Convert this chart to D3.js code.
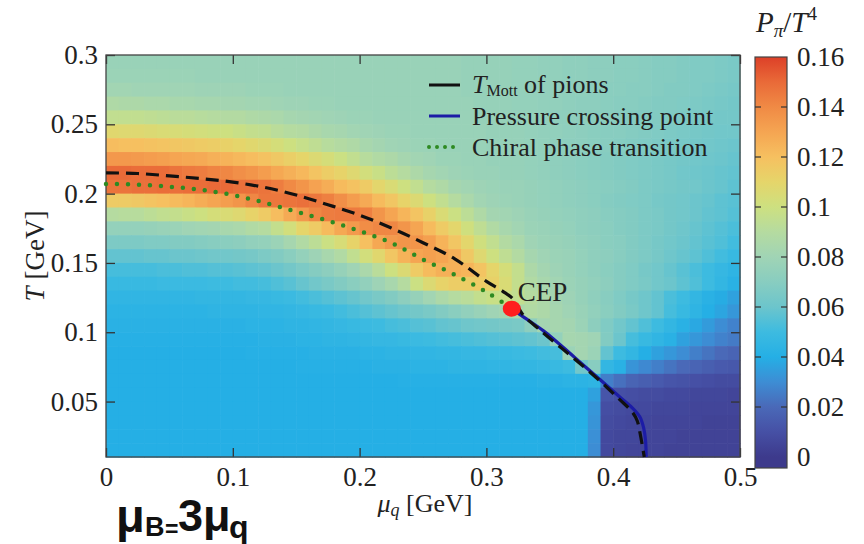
<!DOCTYPE html>
<html>
<head>
<meta charset="utf-8">
<script src="https://cdn.jsdelivr.net/npm/d3@7"></script>
<style>
  body { margin: 0; background: #fff; }
  svg { display: block; font-family: "Liberation Serif", "Times New Roman", serif; }
</style>
</head>
<body>
<svg id="chart" width="864" height="544"></svg>
<script>
// ---- Grid of the pion pressure P_pi / T^4 over (mu_q, T) ----
// Lower edges of the mu_q bins [GeV]
const muLower = [0.00,0.01,0.02,0.03,0.04,0.05,0.06,0.07,0.08,0.09,
                 0.10,0.11,0.12,0.13,0.14,0.15,0.16,0.17,0.18,0.19,
                 0.20,0.21,0.22,0.23,0.24,0.25,0.26,0.27,0.28,0.29,
                 0.30,0.31,0.32,0.33,0.34,0.35,0.36,0.37,0.38,0.39,
                 0.40,0.41,0.42,0.43,0.44,0.45,0.46,0.47,0.48,0.49];
// Lower edges of the T bins [GeV], from the top row down
const tLower = [0.29,0.28,0.27,0.26,0.25,0.24,0.23,0.22,0.21,0.20,
                0.19,0.18,0.17,0.16,0.15,0.14,0.13,0.12,0.11,0.10,
                0.09,0.08,0.07,0.06,0.05,0.04,0.03,0.02,0.01];
const binWidth = 0.01;

// One array per T row, 50 values each (one per mu_q bin)
const pT29 = [.077,.077,.077,.077,.077,.077,.077,.077,.077,.077,
              .077,.077,.077,.077,.077,.077,.077,.077,.077,.077,
              .077,.077,.077,.077,.077,.077,.077,.077,.076,.076,
              .076,.076,.075,.075,.074,.074,.073,.073,.072,.072,
              .071,.071,.070,.069,.069,.068,.067,.067,.066,.065];
const pT28 = [.078,.078,.078,.078,.078,.078,.078,.077,.077,.077,
              .077,.077,.077,.077,.077,.077,.077,.077,.077,.077,
              .077,.077,.077,.077,.077,.077,.077,.077,.076,.076,
              .076,.076,.075,.075,.074,.074,.073,.073,.072,.072,
              .071,.071,.070,.069,.069,.068,.067,.067,.066,.065];
const pT27 = [.081,.081,.080,.080,.080,.080,.080,.079,.079,.079,
              .079,.078,.078,.078,.077,.077,.077,.077,.077,.077,
              .077,.077,.077,.077,.077,.077,.077,.077,.076,.076,
              .076,.076,.075,.075,.074,.074,.073,.073,.072,.071,
              .071,.070,.070,.069,.068,.068,.067,.066,.065,.064];
const pT26 = [.087,.086,.086,.085,.085,.084,.084,.083,.083,.082,
              .082,.081,.081,.080,.079,.079,.078,.078,.077,.077,
              .077,.077,.077,.077,.077,.077,.077,.077,.077,.076,
              .076,.076,.075,.075,.074,.074,.073,.072,.072,.071,
              .070,.070,.069,.068,.068,.067,.066,.065,.064,.063];
const pT25 = [.095,.095,.095,.094,.093,.092,.092,.091,.090,.089,
              .089,.087,.086,.085,.083,.082,.081,.080,.079,.078,
              .078,.077,.077,.077,.077,.077,.077,.077,.077,.076,
              .076,.076,.075,.075,.074,.073,.073,.072,.071,.071,
              .070,.069,.068,.068,.067,.066,.065,.064,.063,.063];
const pT24 = [.108,.107,.107,.106,.105,.104,.103,.102,.101,.100,
              .098,.096,.095,.092,.090,.089,.086,.084,.083,.081,
              .080,.079,.078,.078,.077,.077,.077,.077,.077,.077,
              .076,.076,.076,.075,.074,.074,.073,.072,.071,.070,
              .070,.069,.068,.067,.066,.065,.064,.063,.062,.062];
const pT23 = [.121,.120,.120,.119,.118,.117,.116,.115,.114,.112,
              .110,.108,.106,.103,.100,.097,.094,.091,.089,.087,
              .084,.082,.080,.079,.078,.078,.077,.077,.077,.077,
              .076,.076,.076,.075,.074,.073,.072,.072,.071,.070,
              .069,.068,.067,.066,.065,.064,.063,.062,.061,.060];
const pT22 = [.135,.135,.134,.133,.132,.130,.129,.128,.126,.125,
              .123,.121,.119,.116,.113,.110,.106,.103,.099,.095,
              .091,.088,.086,.083,.081,.080,.078,.078,.077,.077,
              .076,.076,.076,.075,.074,.073,.072,.071,.070,.069,
              .068,.067,.066,.065,.064,.063,.062,.061,.060,.059];
const pT21 = [.150,.150,.149,.149,.149,.147,.145,.144,.142,.141,
              .138,.136,.133,.129,.126,.123,.118,.114,.111,.107,
              .102,.098,.093,.090,.086,.083,.081,.079,.078,.077,
              .077,.076,.076,.075,.074,.073,.072,.071,.070,.069,
              .068,.067,.066,.065,.064,.062,.061,.060,.059,.058];
const pT20 = [.147,.147,.148,.148,.149,.148,.149,.149,.150,.150,
              .148,.148,.147,.144,.140,.136,.131,.127,.122,.119,
              .115,.109,.105,.100,.095,.090,.087,.083,.081,.079,
              .078,.077,.077,.076,.075,.074,.073,.072,.071,.070,
              .069,.068,.066,.065,.064,.063,.062,.060,.059,.057];
const pT19 = [.115,.115,.116,.118,.120,.122,.124,.127,.130,.133,
              .136,.141,.146,.146,.147,.148,.146,.143,.138,.133,
              .128,.122,.117,.111,.106,.100,.095,.090,.085,.081,
              .079,.078,.077,.076,.075,.074,.073,.072,.071,.069,
              .068,.067,.066,.064,.063,.062,.060,.059,.057,.056];
const pT18 = [.090,.091,.091,.093,.095,.096,.098,.100,.103,.105,
              .107,.111,.115,.121,.128,.135,.141,.144,.145,.145,
              .143,.136,.130,.124,.118,.112,.105,.099,.093,.087,
              .082,.081,.079,.077,.076,.075,.074,.073,.072,.070,
              .069,.068,.066,.065,.063,.062,.060,.058,.057,.055];
const pT17 = [.075,.075,.075,.076,.077,.078,.080,.081,.082,.084,
              .085,.088,.090,.096,.102,.110,.115,.122,.129,.134,
              .139,.141,.141,.136,.130,.122,.115,.109,.101,.094,
              .088,.084,.081,.078,.077,.076,.075,.073,.072,.071,
              .069,.068,.066,.065,.063,.061,.059,.057,.055,.053];
const pT16 = [.066,.066,.066,.067,.067,.068,.068,.069,.070,.071,
              .072,.074,.075,.078,.083,.088,.093,.099,.104,.111,
              .120,.129,.134,.136,.136,.132,.125,.117,.109,.101,
              .095,.089,.085,.080,.078,.077,.076,.074,.073,.071,
              .070,.068,.066,.064,.062,.060,.058,.056,.054,.051];
const pT15 = [.058,.058,.058,.059,.059,.060,.060,.061,.062,.062,
              .063,.064,.066,.068,.071,.075,.079,.084,.088,.095,
              .102,.108,.117,.125,.130,.132,.130,.126,.116,.107,
              .100,.094,.089,.083,.080,.078,.077,.075,.073,.072,
              .070,.068,.066,.064,.061,.059,.057,.054,.051,.048];
const pT14 = [.052,.052,.052,.052,.053,.053,.054,.054,.055,.055,
              .056,.057,.058,.060,.063,.066,.069,.072,.076,.080,
              .085,.092,.100,.106,.115,.122,.126,.126,.124,.118,
              .110,.103,.096,.086,.082,.079,.077,.075,.073,.071,
              .069,.067,.064,.062,.059,.056,.053,.050,.047,.044];
const pT13 = [.048,.048,.048,.048,.049,.049,.049,.049,.050,.050,
              .051,.051,.052,.054,.056,.059,.062,.065,.068,.071,
              .074,.079,.084,.090,.099,.106,.111,.114,.114,.115,
              .112,.105,.096,.088,.084,.081,.078,.076,.074,.072,
              .069,.067,.065,.062,.060,.057,.054,.050,.046,.042];
const pT12 = [.045,.045,.045,.045,.045,.045,.045,.046,.046,.046,
              .046,.047,.047,.048,.049,.051,.053,.055,.057,.059,
              .062,.065,.068,.072,.076,.081,.086,.090,.092,.096,
              .098,.098,.095,.090,.086,.082,.079,.076,.073,.070,
              .067,.064,.061,.058,.053,.050,.046,.042,.039,.036];
const pT11 = [.043,.043,.043,.043,.043,.043,.043,.043,.044,.044,
              .044,.044,.045,.045,.046,.047,.048,.049,.051,.053,
              .055,.057,.059,.061,.063,.065,.068,.071,.074,.077,
              .080,.082,.085,.088,.086,.083,.080,.077,.074,.071,
              .068,.065,.061,.058,.052,.048,.044,.040,.037,.033];
const pT10 = [.042,.042,.042,.042,.042,.042,.042,.042,.042,.042,
              .042,.043,.043,.043,.044,.044,.045,.046,.047,.048,
              .049,.050,.052,.053,.055,.056,.058,.059,.061,.062,
              .063,.064,.065,.072,.082,.083,.082,.078,.072,.067,
              .062,.058,.054,.050,.046,.042,.038,.034,.030,.027];
const pT09 = [.041,.041,.041,.041,.041,.041,.041,.041,.041,.041,
              .041,.041,.042,.042,.042,.043,.043,.044,.044,.045,
              .046,.047,.047,.048,.049,.050,.051,.052,.053,.054,
              .055,.056,.057,.058,.060,.075,.083,.082,.080,.068,
              .060,.052,.048,.045,.042,.036,.033,.030,.027,.025];
const pT08 = [.040,.040,.040,.040,.040,.040,.040,.040,.040,.040,
              .040,.041,.041,.041,.041,.041,.042,.042,.042,.042,
              .043,.043,.044,.044,.045,.045,.046,.046,.047,.047,
              .048,.048,.049,.050,.051,.052,.078,.082,.078,.058,
              .050,.046,.040,.036,.033,.030,.026,.023,.020,.018];
const pT07 = [.040,.040,.040,.040,.040,.040,.040,.040,.040,.040,
              .040,.040,.040,.040,.040,.041,.041,.041,.041,.041,
              .041,.042,.042,.042,.043,.043,.043,.044,.044,.044,
              .045,.045,.046,.046,.047,.048,.050,.062,.070,.046,
              .042,.032,.029,.026,.023,.020,.018,.016,.014,.013];
const pT06 = [.040,.040,.040,.040,.040,.040,.040,.040,.040,.040,
              .040,.040,.040,.040,.040,.040,.040,.040,.040,.040,
              .040,.040,.040,.041,.041,.041,.041,.041,.041,.041,
              .041,.041,.041,.041,.042,.042,.043,.043,.044,.026,
              .022,.018,.016,.014,.012,.011,.010,.009,.008,.008];
const pT05 = [.040,.040,.040,.040,.040,.040,.040,.040,.040,.040,
              .040,.040,.040,.040,.040,.040,.040,.040,.040,.040,
              .040,.040,.040,.040,.040,.040,.040,.040,.040,.040,
              .040,.040,.040,.040,.040,.040,.040,.040,.036,.012,
              .010,.009,.008,.008,.007,.007,.006,.006,.006,.005];
const pT04 = [.040,.040,.040,.040,.040,.040,.040,.040,.040,.040,
              .040,.040,.040,.040,.040,.040,.040,.040,.040,.040,
              .040,.040,.040,.040,.040,.040,.040,.040,.040,.040,
              .040,.040,.040,.040,.040,.040,.040,.040,.033,.009,
              .008,.007,.007,.006,.006,.006,.005,.005,.005,.005];
const pT03 = [.040,.040,.040,.040,.040,.040,.040,.040,.040,.040,
              .040,.040,.040,.040,.040,.040,.040,.040,.040,.040,
              .040,.040,.040,.040,.040,.040,.040,.040,.040,.040,
              .040,.040,.040,.040,.040,.040,.040,.040,.032,.008,
              .007,.006,.006,.005,.005,.005,.005,.004,.004,.004];
const pT02 = [.040,.040,.040,.040,.040,.040,.040,.040,.040,.040,
              .040,.040,.040,.040,.040,.040,.040,.040,.040,.040,
              .040,.040,.040,.040,.040,.040,.040,.040,.040,.040,
              .040,.040,.040,.040,.040,.040,.040,.040,.031,.007,
              .006,.006,.005,.005,.005,.004,.004,.004,.004,.004];
const pT01 = [.040,.040,.040,.040,.040,.040,.040,.040,.040,.040,
              .040,.040,.040,.040,.040,.040,.040,.040,.040,.040,
              .040,.040,.040,.040,.040,.040,.040,.040,.040,.040,
              .040,.040,.040,.040,.040,.040,.040,.040,.030,.007,
              .006,.005,.005,.005,.004,.004,.004,.004,.004,.004];
const pressureRows = [pT29,pT28,pT27,pT26,pT25,pT24,pT23,pT22,pT21,pT20,
                      pT19,pT18,pT17,pT16,pT15,pT14,pT13,pT12,pT11,pT10,
                      pT09,pT08,pT07,pT06,pT05,pT04,pT03,pT02,pT01];

// ---- Curves in the (mu_q, T) plane [GeV] ----
const mottLine = [[0.000,0.2150],[0.025,0.2145],[0.050,0.2128],[0.075,0.2108],
                  [0.100,0.2083],[0.125,0.2045],[0.150,0.1990],[0.175,0.1920],
                  [0.200,0.1845],[0.225,0.1752],[0.250,0.1646],[0.275,0.1530],
                  [0.300,0.1367],[0.313,0.1295],[0.3215,0.1235],[0.3285,0.1130],
                  [0.345,0.0995],[0.360,0.0880],[0.375,0.0765],[0.390,0.0645],
                  [0.405,0.0515],[0.415,0.0425],[0.419,0.0360],[0.421,0.0280],
                  [0.423,0.0180],[0.4245,0.0100]];
const crossingLine = [[0.320,0.1168],[0.330,0.1105],[0.345,0.1010],[0.360,0.0895],
                      [0.375,0.0775],[0.390,0.0655],[0.405,0.0535],[0.415,0.0455],
                      [0.421,0.0390],[0.424,0.0310],[0.4255,0.0220],[0.426,0.0100]];
const chiralLine = [[0.000,0.2070],[0.025,0.2065],[0.050,0.2050],[0.075,0.2027],
                    [0.100,0.1990],[0.125,0.1935],[0.150,0.1870],[0.175,0.1805],
                    [0.200,0.1730],[0.225,0.1645],[0.250,0.1525],[0.275,0.1415],
                    [0.300,0.1290],[0.316,0.1195]];
const cep = [0.320, 0.117];

// ---- Axes and colour bar ----
const xTicks = [0, 0.1, 0.2, 0.3, 0.4, 0.5];
const yTicks = [0.05, 0.1, 0.15, 0.2, 0.25, 0.3];
const cbTicks = [0, 0.02, 0.04, 0.06, 0.08, 0.1, 0.12, 0.14, 0.16];
const cmapValues = [0, 0.01, 0.02, 0.03, 0.04, 0.05, 0.06, 0.07, 0.08,
                    0.09, 0.10, 0.11, 0.12, 0.13, 0.14, 0.15, 0.16];
const cmapColors = ["#3d3a8c","#4650a5","#4a69b8","#3d8dd4","#25afe5","#3dbbe0",
                    "#6cc5cc","#88cdc0","#a0d4b5","#b5dba0","#cde080","#e5d56a",
                    "#f6c060","#f5a552","#f08a45","#e96a38","#dd4028"];

const svg = d3.select("#chart");
const plot = { left: 106, right: 740, top: 55, bottom: 457 };

const x = d3.scaleLinear().domain([0, 0.5]).range([plot.left, plot.right]);
const y = d3.scaleLinear().domain([0.01, 0.3]).range([plot.bottom, plot.top]);
const color = d3.scaleLinear().domain(cmapValues).range(cmapColors)
  .interpolate(d3.interpolateRgb).clamp(true);

// heat map cells
const cells = [];
pressureRows.forEach((row, r) => {
  row.forEach((v, c) => cells.push({ mu: muLower[c], t: tLower[r], v }));
});
svg.append("g")
  .selectAll("rect")
  .data(cells)
  .join("rect")
  .attr("x", d => x(d.mu))
  .attr("y", d => y(d.t + binWidth))
  .attr("width", d => x(d.mu + binWidth) - x(d.mu) + 0.6)
  .attr("height", d => y(d.t) - y(d.t + binWidth) + 0.6)
  .attr("fill", d => color(d.v));

// axes with inward ticks
const tickFont = g => g.selectAll("text")
  .attr("font-family", "Liberation Serif, Times New Roman, serif")
  .attr("font-size", 27).attr("fill", "#222");
const axisStyle = g => {
  g.select(".domain").remove();
  g.selectAll(".tick line").attr("stroke", "#333").attr("stroke-width", 1.3);
};
svg.append("g").attr("transform", `translate(0,${plot.bottom})`)
  .call(d3.axisBottom(x).tickValues(xTicks).tickSize(-9).tickPadding(10).tickFormat(d3.format("")))
  .call(axisStyle).call(tickFont);
svg.append("g").attr("transform", `translate(0,${plot.top})`)
  .call(d3.axisTop(x).tickValues(xTicks).tickSize(-9).tickFormat(""))
  .call(axisStyle);
svg.append("g").attr("transform", `translate(${plot.left},0)`)
  .call(d3.axisLeft(y).tickValues(yTicks).tickSize(-9).tickPadding(8).tickFormat(d3.format("")))
  .call(axisStyle).call(tickFont);
svg.append("g").attr("transform", `translate(${plot.right},0)`)
  .call(d3.axisRight(y).tickValues(yTicks).tickSize(-9).tickFormat(""))
  .call(axisStyle);

svg.append("rect")
  .attr("x", plot.left).attr("y", plot.top)
  .attr("width", plot.right - plot.left).attr("height", plot.bottom - plot.top)
  .attr("fill", "none").attr("stroke", "#444").attr("stroke-width", 1.3);

// curves
const line = d3.line().x(d => x(d[0])).y(d => y(d[1])).curve(d3.curveCatmullRom.alpha(0.5));
svg.append("path").datum(crossingLine).attr("d", line)
  .attr("fill", "none").attr("stroke", "#1c1ca6").attr("stroke-width", 3.2);
svg.append("path").datum(mottLine).attr("d", line)
  .attr("fill", "none").attr("stroke", "#111").attr("stroke-width", 3.2)
  .attr("stroke-dasharray", "13,7");
svg.append("path").datum(chiralLine).attr("d", line)
  .attr("fill", "none").attr("stroke", "#2e8a22").attr("stroke-width", 4.5)
  .attr("stroke-linecap", "round").attr("stroke-dasharray", "0,11");
svg.append("ellipse")
  .attr("cx", x(cep[0])).attr("cy", y(cep[1])).attr("rx", 9).attr("ry", 8)
  .attr("fill", "#ff1e1e");
svg.append("text").attr("x", x(cep[0]) + 6).attr("y", y(cep[1]) - 8)
  .attr("font-size", 27).attr("fill", "#222").text("CEP");

// legend
const legend = svg.append("g");
const legendRows = [
  { y: 85, stroke: "#111", dash: null, width: 3 },
  { y: 116, stroke: "#1c1ca6", dash: null, width: 3 },
  { y: 147, stroke: "#2e8a22", dash: "0,8", width: 4 }
];
legendRows.forEach(r => {
  legend.append("line").attr("x1", 429).attr("x2", 460).attr("y1", r.y).attr("y2", r.y)
    .attr("stroke", r.stroke).attr("stroke-width", r.width)
    .attr("stroke-linecap", r.dash ? "round" : "butt")
    .attr("stroke-dasharray", r.dash);
});
const lt1 = legend.append("text").attr("x", 472).attr("y", 93).attr("font-size", 26).attr("fill", "#222");
lt1.append("tspan").attr("font-style", "italic").text("T");
lt1.append("tspan").attr("font-size", 16).attr("dy", 3).text("Mott");
lt1.append("tspan").attr("dy", -3).text(" of pions");
legend.append("text").attr("x", 472).attr("y", 125).attr("font-size", 26).attr("fill", "#222")
  .text("Pressure crossing point");
legend.append("text").attr("x", 472).attr("y", 156).attr("font-size", 26).attr("fill", "#222")
  .text("Chiral phase transition");

// axis titles
const xt = svg.append("text").attr("x", (plot.left + plot.right) / 2 + 2).attr("y", 512)
  .attr("text-anchor", "middle").attr("font-size", 26).attr("fill", "#222");
xt.append("tspan").attr("font-style", "italic").text("μ");
xt.append("tspan").attr("font-style", "italic").attr("font-size", 18).attr("dy", 4).text("q");
xt.append("tspan").attr("dy", -4).text(" [GeV]");

const yt = svg.append("text")
  .attr("transform", `translate(44,${(plot.top + plot.bottom) / 2}) rotate(-90)`)
  .attr("text-anchor", "middle").attr("font-size", 27).attr("fill", "#222");
yt.append("tspan").attr("font-style", "italic").text("T");
yt.append("tspan").text(" [GeV]");

// colour bar
const cb = { left: 755, width: 32, top: 57, bottom: 457, end: 468 };
const cy = d3.scaleLinear().domain([0, 0.16]).range([cb.bottom, cb.top]);
const defs = svg.append("defs");
const grad = defs.append("linearGradient").attr("id", "cbgrad")
  .attr("x1", 0).attr("x2", 0).attr("y1", 1).attr("y2", 0);
cmapValues.forEach(v => {
  grad.append("stop").attr("offset", v / 0.16).attr("stop-color", color(v));
});
svg.append("rect").attr("x", cb.left).attr("y", cb.bottom).attr("width", cb.width)
  .attr("height", cb.end - cb.bottom).attr("fill", color(0));
svg.append("rect").attr("x", cb.left).attr("y", cb.top).attr("width", cb.width)
  .attr("height", cb.bottom - cb.top).attr("fill", "url(#cbgrad)");
svg.append("rect").attr("x", cb.left).attr("y", cb.top).attr("width", cb.width)
  .attr("height", cb.end - cb.top).attr("fill", "none").attr("stroke", "#444").attr("stroke-width", 1.2);
svg.append("g").attr("transform", `translate(${cb.left + cb.width},0)`)
  .call(d3.axisRight(cy).tickValues(cbTicks).tickSize(0).tickPadding(10).tickFormat(d3.format("")))
  .call(g => g.select(".domain").remove())
  .call(tickFont);
const inner = cbTicks.filter(v => v > 0 && v < 0.16);
svg.append("g").selectAll("line").data(inner).join("line")
  .attr("x1", cb.left).attr("x2", cb.left + 6).attr("y1", d => cy(d)).attr("y2", d => cy(d))
  .attr("stroke", "#333").attr("stroke-width", 1.2);
svg.append("g").selectAll("line").data(inner).join("line")
  .attr("x1", cb.left + cb.width - 6).attr("x2", cb.left + cb.width).attr("y1", d => cy(d)).attr("y2", d => cy(d))
  .attr("stroke", "#333").attr("stroke-width", 1.2);

const cbt = svg.append("text").attr("x", 756).attr("y", 32).attr("font-size", 29).attr("fill", "#222");
cbt.append("tspan").attr("font-style", "italic").text("P");
cbt.append("tspan").attr("font-style", "italic").attr("font-size", 19).attr("dy", 5).text("π");
cbt.append("tspan").attr("dy", -5).text("/");
cbt.append("tspan").attr("font-style", "italic").text("T");
cbt.append("tspan").attr("font-size", 19).attr("dy", -12).text("4");

// relation between baryon and quark chemical potential
const rel = svg.append("text").attr("y", 532)
  .attr("font-family", "Liberation Sans, Arial, sans-serif").attr("font-weight", "bold").attr("fill", "#111");
rel.append("tspan").attr("x", 116).attr("font-size", 47).text("μ");
rel.append("tspan").attr("x", 145).attr("dy", 4).attr("font-size", 27).text("B");
rel.append("tspan").attr("x", 165).attr("dy", 1).attr("font-size", 23).text("=");
rel.append("tspan").attr("x", 178).attr("dy", -6).attr("font-size", 45).text("3μ");
rel.append("tspan").attr("x", 229).attr("dy", 7).attr("font-size", 32).text("q");
</script>
</body>
</html>
